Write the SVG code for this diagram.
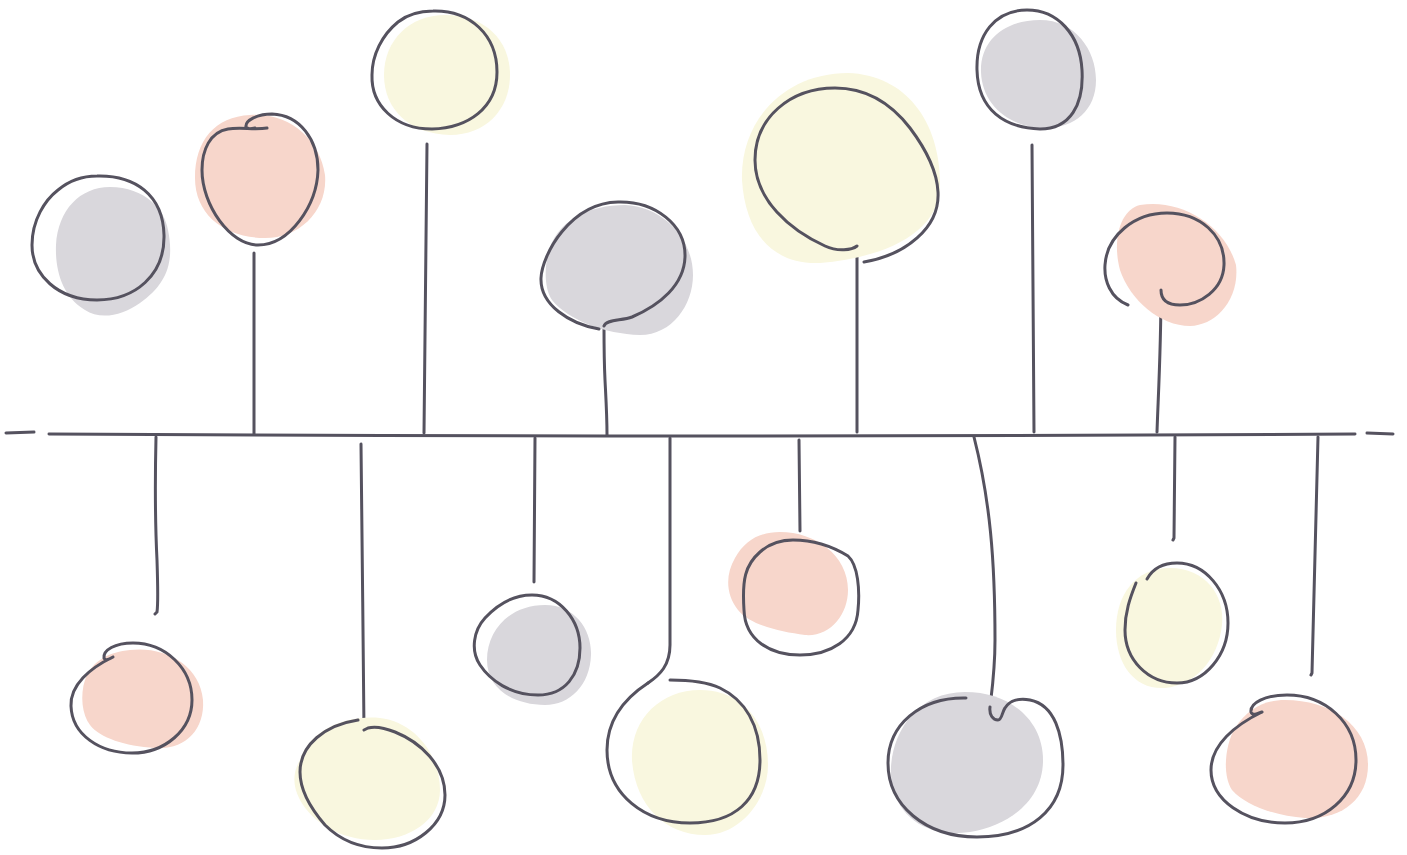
<svg xmlns="http://www.w3.org/2000/svg" width="1407" height="855" viewBox="0 0 1407 855">
<style>
.ln{fill:none;stroke:#55525f;stroke-width:3;stroke-linecap:round;stroke-linejoin:round}
.g{fill:#d9d7dc}
.p{fill:#f7d6cb}
.y{fill:#f9f7df}
</style>
<rect width="1407" height="855" fill="#ffffff"/>
<g id="connectors" class="ln">
<path d="M6,433 L34,432"/>
<path d="M49,434 Q700,438 1355,434"/>
<path d="M1367,433 L1393,434"/>
<path d="M254,253 L254,434"/>
<path d="M427,144 L424,433"/>
<path d="M604,326 C604,345 604,360 605,380 C606,400 607,415 607,435"/>
<path d="M857,246 L857,432"/>
<path d="M1032,145 L1034,432"/>
<path d="M1161,290 C1161,350 1158,400 1157,432"/>
<path d="M156,437 C155,480 155,520 157,560 C158,590 158,605 157,612 L155,614"/>
<path d="M361,444 C362,500 363,650 364,730"/>
<path d="M535,438 L534,582"/>
<path d="M670,438 L670,645 C670,665 660,675 648,683"/>
<path d="M799,440 L800,531"/>
<path d="M974,437 C990,500 995,560 995,640 C995,670 992,690 990,707"/>
<path d="M1175,437 L1174,538 L1173,540"/>
<path d="M1318,437 L1312,673 L1311,675"/>
</g>
<g id="node-t1">
<path class="g" d="M110,187 C145,187 165,210 168,230 C175,265 165,285 140,303 C122,316 100,320 85,310 C62,296 55,270 56,245 C58,210 80,187 110,187Z"/>
<path class="ln" d="M97,176 C135,175 163,195 164,235 C165,275 135,300 97,300 C58,300 32,275 32,245 C32,220 45,200 58,190 C70,180 82,176 97,176Z"/>
</g>
<g id="node-t2">
<path class="p" d="M250,115 C290,112 320,140 325,175 C328,210 300,238 265,238 C225,238 195,215 195,178 C195,140 215,117 250,115Z"/>
<path class="ln" d="M267,128 C255,130 240,127 228,129 C210,132 202,150 202,170 C202,205 230,245 258,245 C290,245 317,205 318,170 C318,140 300,115 272,114 C258,114 245,120 246,127 C247,129 250,129 255,128"/>
</g>
<g id="node-t3">
<path class="y" d="M445,15 C485,15 510,40 510,75 C510,110 485,135 450,135 C410,134 384,110 384,75 C384,40 410,15 445,15Z"/>
<path class="ln" d="M433,11 C470,10 497,35 497,72 C497,108 468,128 432,129 C395,129 371,105 372,75 C372,55 382,35 398,22 C408,14 420,11 433,11Z"/>
</g>
<g id="node-t4">
<path class="g" d="M548,255 C555,220 590,205 625,205 C665,207 693,240 693,275 C693,305 672,335 640,335 C605,334 568,320 552,300 C545,290 544,270 548,255Z"/>
<path class="ln" d="M599,329 C570,324 540,305 541,278 C542,255 570,203 618,202 C655,201 686,225 685,257 C684,285 660,305 632,317 C622,321 606,319 604,326"/>
</g>
<g id="node-t5">
<path class="y" d="M742,180 C740,120 785,73 848,73 C905,75 940,120 940,185 C940,235 880,258 820,263 C770,265 745,230 742,180Z"/>
<path class="ln" d="M864,262 C905,255 940,228 938,192 C937,170 925,148 910,128 C890,102 865,88 835,88 C790,88 755,118 755,160 C755,200 790,230 825,246 C838,252 852,250 857,246"/>
</g>
<g id="node-t6">
<path class="g" d="M1040,20 C1075,20 1096,50 1096,80 C1096,110 1075,128 1045,128 C1010,128 982,105 981,72 C980,40 1005,20 1040,20Z"/>
<path class="ln" d="M1027,10 C1058,10 1080,35 1082,70 C1084,105 1070,129 1040,129 C1005,128 978,110 977,70 C976,35 995,10 1027,10Z"/>
</g>
<g id="node-t7">
<path class="p" d="M1140,205 C1180,198 1225,225 1236,265 C1240,300 1215,326 1190,326 C1160,326 1130,300 1120,270 C1112,240 1120,210 1140,205Z"/>
<path class="ln" d="M1128,305 C1110,298 1104,280 1105,265 C1107,235 1135,213 1167,213 C1200,213 1225,235 1224,265 C1223,290 1200,305 1180,305 C1170,305 1161,302 1161,290"/>
</g>
<g id="node-b1">
<path class="p" d="M130,650 C165,646 200,665 203,700 C205,730 185,750 155,748 C125,746 100,738 90,725 C82,715 80,695 85,680 C92,660 110,652 130,650Z"/>
<path class="ln" d="M113,657 C90,668 70,685 71,706 C72,735 100,753 132,753 C165,753 192,730 192,700 C192,668 165,643 133,643 C115,643 103,650 104,658 C105,661 108,660 113,657"/>
</g>
<g id="node-b2">
<path class="y" d="M300,760 C310,730 345,715 380,718 C415,722 440,755 440,790 C440,820 410,840 375,840 C340,840 312,822 300,800 C292,785 293,772 300,760Z"/>
<path class="ln" d="M358,720 C325,725 300,745 300,772 C300,790 312,810 325,825 C340,840 360,848 382,848 C415,848 445,825 445,795 C445,765 420,742 395,732 C385,728 375,726 368,728 L364,730"/>
</g>
<g id="node-b3">
<path class="g" d="M545,605 C575,605 592,630 591,655 C590,685 570,705 545,705 C515,705 487,690 487,660 C487,630 510,605 545,605Z"/>
<path class="ln" d="M532,595 C560,595 580,620 580,648 C580,675 565,695 538,695 C510,695 490,680 480,665 C470,650 474,630 485,618 C497,605 512,595 532,595Z"/>
</g>
<g id="node-b4">
<path class="y" d="M700,690 C740,690 768,720 768,765 C768,800 740,835 705,835 C665,835 635,805 632,760 C630,720 660,690 700,690Z"/>
<path class="ln" d="M648,683 C625,698 607,720 607,750 C607,795 645,823 690,823 C735,823 760,800 760,760 C760,725 745,700 720,688 C705,681 685,680 670,680"/>
</g>
<g id="node-b5">
<path class="p" d="M780,532 C815,532 848,555 848,590 C848,615 830,637 805,635 C780,632 750,625 738,610 C726,595 725,575 735,558 C745,540 760,532 780,532Z"/>
<path class="ln" d="M793,540 C815,540 835,548 848,556 C858,565 860,590 858,610 C856,640 830,655 800,655 C770,655 745,640 744,610 C742,580 745,565 760,552 C770,543 780,540 793,540Z"/>
</g>
<g id="node-b6">
<path class="g" d="M965,692 C1010,692 1043,720 1043,760 C1043,800 1010,825 970,832 C930,838 900,820 892,785 C885,745 910,692 965,692Z"/>
<path class="ln" d="M990,707 C989,715 993,720 998,720 C1002,720 1002,712 1005,708 C1010,700 1020,698 1030,700 C1055,705 1063,735 1063,765 C1063,810 1030,837 977,837 C925,837 888,805 888,763 C888,725 920,697 966,698"/>
</g>
<g id="node-b7">
<path class="y" d="M1170,568 C1205,568 1225,595 1222,625 C1218,660 1195,685 1165,688 C1135,690 1116,665 1116,630 C1116,595 1135,568 1170,568Z"/>
<path class="ln" d="M1147,579 C1152,570 1162,563 1177,563 C1205,563 1228,590 1228,623 C1228,655 1205,683 1177,683 C1148,683 1125,660 1125,630 C1125,612 1130,598 1136,583"/>
</g>
<g id="node-b8">
<path class="p" d="M1285,700 C1330,700 1368,725 1368,765 C1368,800 1340,820 1305,818 C1275,816 1245,805 1232,790 C1222,775 1225,745 1235,728 C1248,708 1265,700 1285,700Z"/>
<path class="ln" d="M1262,712 C1235,725 1211,745 1211,770 C1211,800 1245,823 1285,823 C1325,823 1356,797 1356,760 C1356,722 1325,695 1287,695 C1265,695 1250,703 1251,712 C1252,716 1257,714 1262,712"/>
</g>
</svg>
